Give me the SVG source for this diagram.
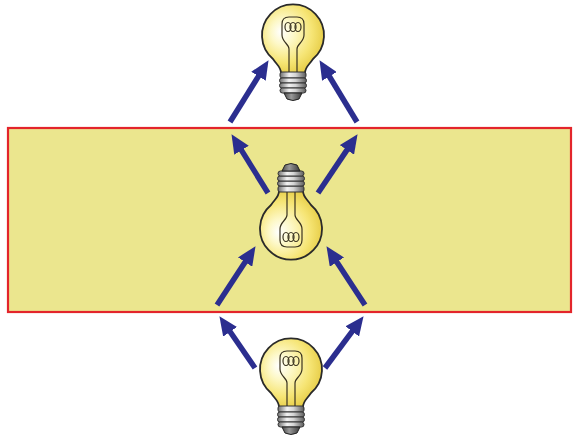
<svg xmlns="http://www.w3.org/2000/svg" width="573" height="435" viewBox="0 0 573 435">
  <style>
    .glass { stroke: #2a2a2a; stroke-width: 1.8; }
    .fil { fill: none; stroke: #3a3320; stroke-width: 1.2; }
    .ring { fill: url(#metal); stroke: #333; stroke-width: 1; }
    .ray { stroke: #2b2e8f; stroke-width: 5.5; fill: none; marker-end: url(#head); }
  </style>
  <defs>
    <radialGradient id="glow" cx="0.4" cy="0.42" r="0.62" fx="0.3" fy="0.4">
      <stop offset="0" stop-color="#ffffff"/>
      <stop offset="0.3" stop-color="#fdf8c8"/>
      <stop offset="0.7" stop-color="#f6e575"/>
      <stop offset="1" stop-color="#e6cc45"/>
    </radialGradient>
    <linearGradient id="metal" x1="0" y1="0" x2="1" y2="0">
      <stop offset="0" stop-color="#6e6e6e"/>
      <stop offset="0.35" stop-color="#f2f2f2"/>
      <stop offset="0.6" stop-color="#d4d4d4"/>
      <stop offset="1" stop-color="#5a5a5a"/>
    </linearGradient>
    <linearGradient id="tip" x1="0" y1="0" x2="1" y2="0">
      <stop offset="0" stop-color="#4a4a4a"/>
      <stop offset="0.4" stop-color="#9a9a9a"/>
      <stop offset="1" stop-color="#3a3a3a"/>
    </linearGradient>
    <marker id="head" markerUnits="userSpaceOnUse" markerWidth="20" markerHeight="17" viewBox="0 0 20 17" refX="4" refY="8.5" orient="auto">
      <path d="M0,0 L19,8.5 L0,17 Z" fill="#2b2e8f"/>
    </marker>
    <!-- upright bulb, origin at the centre of the glass -->
    <g id="bulb">
      <path class="glass" fill="url(#glow)" d="M -12,38 C -12,32 -16,30 -20,24 A 31 31 0 1 1 20,24 C 16,30 12,32 12,38 Z"/>
      <path class="fil" d="M -4,38 V 14 C -4,9 -11,7 -11,0 V -11 Q -11,-18 -4,-18 H 4 Q 11,-18 11,-11 V 0 C 11,7 4,9 4,14 V 38"/>
      <ellipse class="fil" cx="-5" cy="-8" rx="3" ry="4.5"/>
      <ellipse class="fil" cx="0" cy="-8" rx="3" ry="4.5"/>
      <ellipse class="fil" cx="5" cy="-8" rx="3" ry="4.5"/>
      <rect class="ring" x="-13" y="37" width="26" height="6" rx="2"/>
      <rect class="ring" x="-13.5" y="43" width="27" height="5" rx="2.5"/>
      <rect class="ring" x="-13.5" y="48" width="27" height="5" rx="2.5"/>
      <rect class="ring" x="-13" y="53" width="26" height="5" rx="2.5"/>
      <path d="M -9,58 H 9 L 6,64 Q 0,67 -6,64 Z" fill="url(#tip)" stroke="#222" stroke-width="1"/>
    </g>
  </defs>

  <g id="panel">
    <rect x="8" y="128" width="563" height="184" fill="#ebe68e" stroke="#e3252b" stroke-width="2.2"/>
  </g>

  <g id="connectors">
    <line class="ray" x1="230" y1="122" x2="260.6" y2="72.9"/>
    <line class="ray" x1="357" y1="122" x2="327.3" y2="73"/>
    <line class="ray" x1="268" y1="193" x2="239.4" y2="146.9"/>
    <line class="ray" x1="318" y1="193" x2="349.2" y2="146.6"/>
    <line class="ray" x1="217" y1="305" x2="247.3" y2="258.7"/>
    <line class="ray" x1="365" y1="305" x2="334.7" y2="258.7"/>
    <line class="ray" x1="255" y1="368" x2="227.9" y2="328.5"/>
    <line class="ray" x1="325" y1="368" x2="354.6" y2="328.2"/>
  </g>

  <g id="bulb-top"><use href="#bulb" transform="translate(293,35)"/></g>
  <g id="bulb-middle"><use href="#bulb" transform="translate(291,229) scale(1,-1)"/></g>
  <g id="bulb-bottom"><use href="#bulb" transform="translate(291,369)"/></g>
</svg>
